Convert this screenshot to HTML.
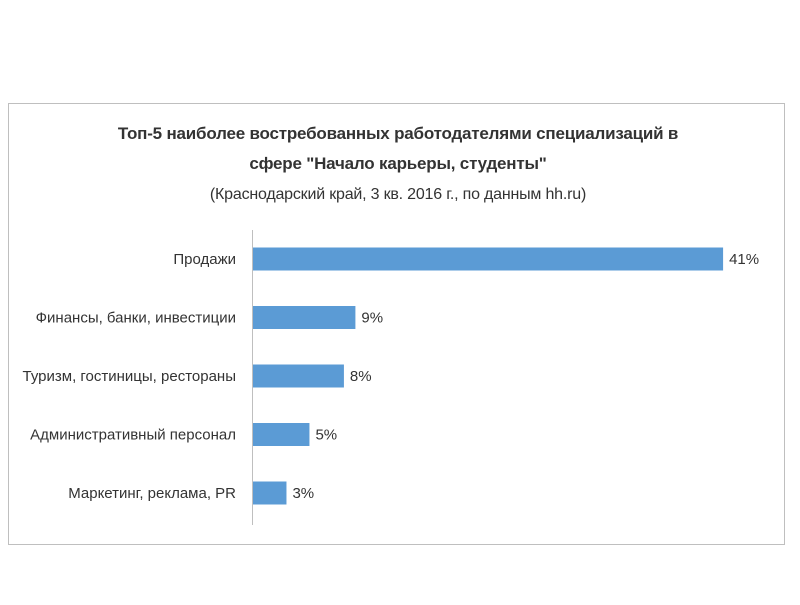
<!DOCTYPE html>
<html><head><meta charset="utf-8"><style>
body{margin:0;background:#fff;width:800px;height:600px;overflow:hidden}
svg text{font-family:"Liberation Sans Narrow","Liberation Sans",sans-serif;fill:#333}
</style></head><body>
<svg width="800" height="600">
<rect x="8.5" y="103.5" width="776" height="441" fill="#fff" stroke="#bfbfbf"/>
<g>
<text x="398" y="139" text-anchor="middle" font-size="17" font-weight="bold" letter-spacing="-0.2">Топ-5 наиболее востребованных работодателями специализаций в</text>
<text x="398" y="169" text-anchor="middle" font-size="17" font-weight="bold" letter-spacing="-0.2">сфере "Начало карьеры, студенты"</text>
<text x="398" y="199" text-anchor="middle" font-size="16" letter-spacing="-0.2">(Краснодарский край, 3 кв. 2016 г., по данным hh.ru)</text>
</g>
<line x1="252.5" y1="230" x2="252.5" y2="525" stroke="#bfbfbf"/>
<g id="bars"></g>
</svg>
<script>
const categories=["Продажи","Финансы, банки, инвестиции","Туризм, гостиницы, рестораны","Административный персонал","Маркетинг, реклама, PR"];
const values=[41,9,8,5,3];
const x0=252,pxPer=11.49,y0=259,step=58.5,bh=23;
const g=document.getElementById('bars');
const ns='http://www.w3.org/2000/svg';
function xs(v){return x0+v*pxPer}
function yc(i){return y0+i*step}
categories.forEach((c,i)=>{
 const r=document.createElementNS(ns,'rect');
 r.setAttribute('x',x0+1);r.setAttribute('y',yc(i)-bh/2);
 r.setAttribute('width',xs(values[i])-x0-1);r.setAttribute('height',bh);r.setAttribute('fill','#5b9bd5');
 
 
 g.appendChild(r);
 const l=document.createElementNS(ns,'text');
 l.setAttribute('x',x0-16);l.setAttribute('y',yc(i)+5);l.setAttribute('text-anchor','end');l.setAttribute('font-size','15');
 l.textContent=c;
 
 
 g.appendChild(l);
 const v=document.createElementNS(ns,'text');
 v.setAttribute('x',xs(values[i])+6);v.setAttribute('y',yc(i)+5);v.setAttribute('font-size','15');
 v.textContent=values[i]+'%';
 
 
 g.appendChild(v);
});
</script>
</body></html>
